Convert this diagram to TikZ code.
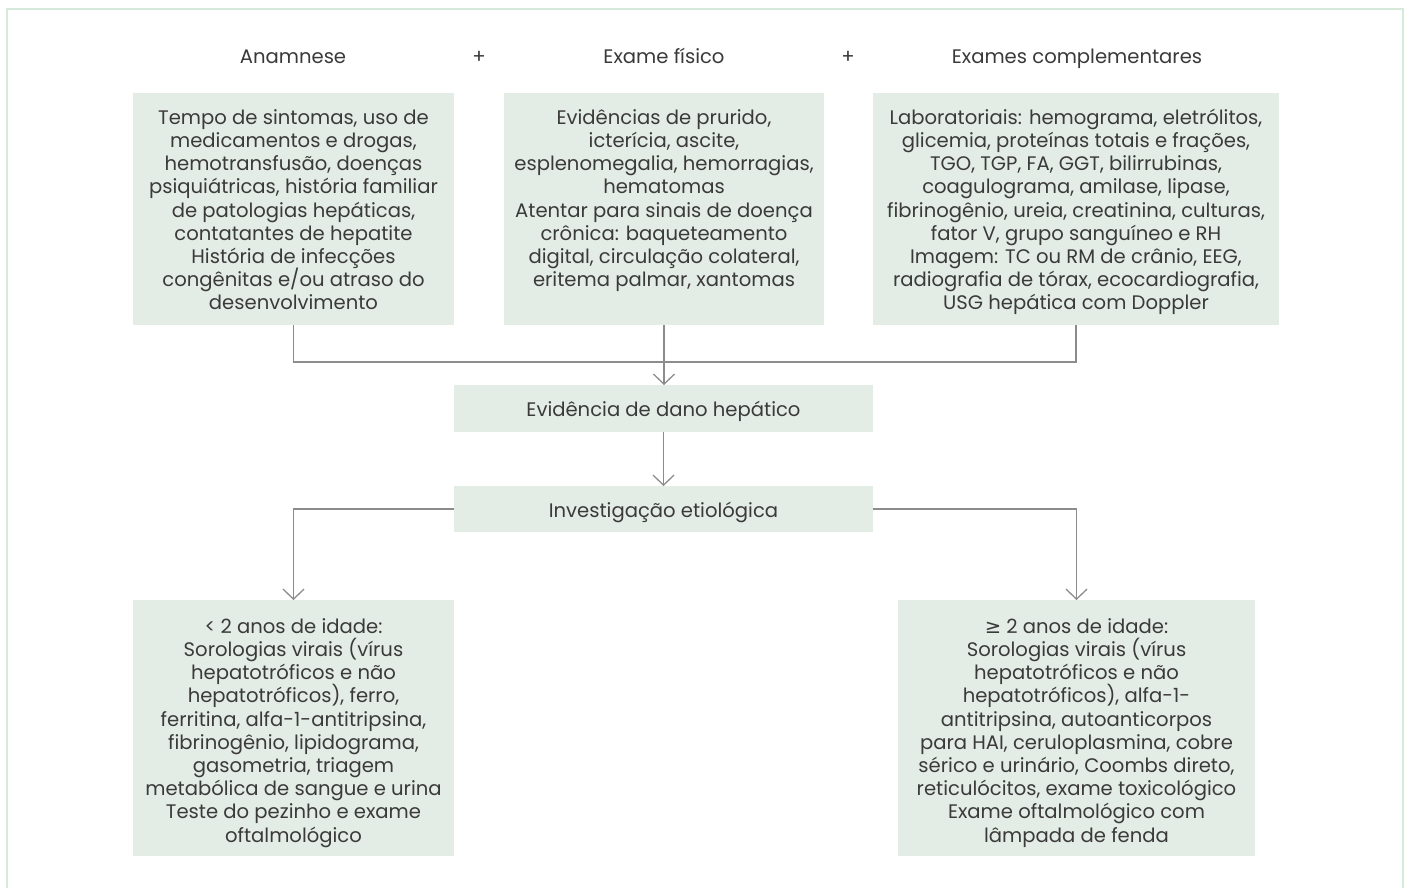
\documentclass[tikz,border=0pt]{standalone}
\usepackage{fontspec}
\setmainfont{Poppins}
\newfontfamily\symfont{DejaVu Sans}
\usetikzlibrary{arrows.meta}
\definecolor{boxfill}{HTML}{E4EDE5}
\definecolor{linec}{HTML}{8C8C8C}
\definecolor{textc}{HTML}{3A3A3A}
\definecolor{framec}{HTML}{D5EADB}
% body text: fixed line pitch regardless of glyph heights
\newcommand\bodyfont{\fontsize{19.6}{23.2}\selectfont\lineskiplimit=-100pt\relax}
\begin{document}
\begin{tikzpicture}[x=1pt,y=-1pt,
  every node/.style={inner sep=0pt, outer sep=0pt},
  panel/.style={fill=boxfill, draw=none, anchor=north west},
  body/.style={align=center, anchor=north, text=textc, font=\bodyfont},
  head/.style={anchor=base, text=textc, font=\fontsize{19.6}{23.2}\selectfont},
  conn/.style={draw=linec, line width=1.3pt},
  arr/.style={conn, -{Straight Barb[length=10pt,width=21pt,line width=1.3pt]}}]
\useasboundingbox (0,0) rectangle (1410,887);
\fill[white] (0,0) rectangle (1410,887);
% outer frame
\draw[framec, line width=1.6pt] (7,890) -- (7,9) -- (1403,9) -- (1403,890);

% headings
\node[head] (h1) at (293,63) {Anamnese};
\node[head] (p1) at (479,63) {+};
\node[head] (h2) at (664,63) {Exame físico};
\node[head] (p2) at (848,63) {+};
\node[head] (h3) at (1077,63) {Exames complementares};

% top row panels
\node[panel, minimum width=321pt, minimum height=232pt] (b1) at (133,93) {};
\node[panel, minimum width=320pt, minimum height=232pt] (b2) at (504,93) {};
\node[panel, minimum width=406pt, minimum height=232pt] (b3) at (873,93) {};

\node[body] (t1) at ([yshift=-15pt]b1.north) {\strut Tempo de sintomas, uso de\\
medicamentos e drogas,\\ hemotransfusão, doenças\\
psiquiátricas, história familiar\\ de patologias hepáticas,\\
contatantes de hepatite\\ História de infecções\\
congênitas e/ou atraso do\\ desenvolvimento};
\node[body] (t2) at ([yshift=-15pt]b2.north) {\strut Evidências de prurido,\\
icterícia, ascite,\\ esplenomegalia, hemorragias,\\ hematomas\\
Atentar para sinais de doença\\ crônica: baqueteamento\\
digital, circulação colateral,\\ eritema palmar, xantomas};
\node[body] (t3) at ([yshift=-15pt]b3.north) {\strut Laboratoriais: hemograma, eletrólitos,\\
glicemia, proteínas totais e frações,\\ TGO, TGP, FA, GGT, bilirrubinas,\\
coagulograma, amilase, lipase,\\ fibrinogênio, ureia, creatinina, culturas,\\
fator V, grupo sanguíneo e RH\\ Imagem: TC ou RM de crânio, EEG,\\
radiografia de tórax, ecocardiografia,\\ USG hepática com Doppler};

% middle steps
\node[panel, minimum width=419pt, minimum height=47pt] (ev) at (454,385) {};
\node[head] (evt) at (663.5,416.5) {Evidência de dano hepático};
\node[panel, minimum width=419pt, minimum height=46pt] (inv) at (454,486) {};
\node[head] (invt) at (663.5,517.5) {Investigação etiológica};

% bottom row panels
\node[panel, minimum width=321pt, minimum height=256pt] (b4) at (133,600) {};
\node[panel, minimum width=357pt, minimum height=256pt] (b5) at (898,600) {};

\node[body] (t4) at ([yshift=-17pt]b4.north) {\strut < 2 anos de idade:\\
Sorologias virais (vírus\\ hepatotróficos e não\\
hepatotróficos), ferro,\\ ferritina, alfa-1-antitripsina,\\
fibrinogênio, lipidograma,\\ gasometria, triagem\\
metabólica de sangue e urina\\ Teste do pezinho e exame\\ oftalmológico};
\node[body] (t5) at ([yshift=-17pt]b5.north) {\strut {\symfont ≥} 2 anos de idade:\\
Sorologias virais (vírus\\ hepatotróficos e não\\
hepatotróficos), alfa-1-\\ antitripsina, autoanticorpos\\
para HAI, ceruloplasmina, cobre\\ sérico e urinário, Coombs direto,\\
reticulócitos, exame toxicológico\\ Exame oftalmológico com\\ lâmpada de fenda};

% connectors
\draw[conn] (b1.south) -- ++(0,37) -| (b3.south);
\draw[arr] (b2.south) -- (b2.south |- ev.north);
\draw[arr] (ev.south) -- (inv.north);
\draw[arr] (inv.west) -| (b4.north);
\draw[arr] (inv.east) -| (b5.north);
\end{tikzpicture}
\end{document}
